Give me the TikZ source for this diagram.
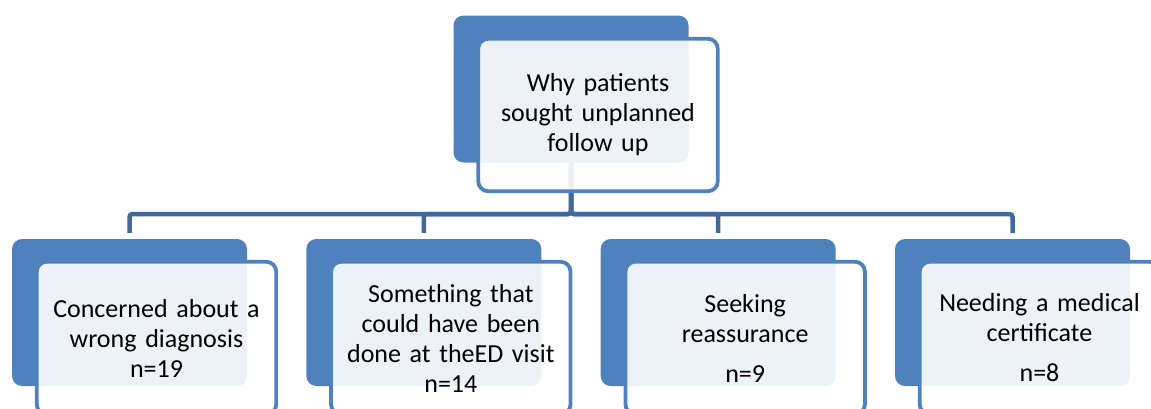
\documentclass[tikz,border=0pt]{standalone}
\usepackage{fontspec}
\setmainfont{Carlito}
\definecolor{accent}{HTML}{4F81BD}
\definecolor{linkblue}{HTML}{41699A}
\begin{document}
\begin{tikzpicture}[x=1pt, y=-1pt,
  backbox/.style={rectangle, rounded corners=10pt, fill=accent, minimum width=235pt, minimum height=147pt, inner sep=0pt},
  frontbox/.style={rectangle, rounded corners=10pt, draw=accent, line width=3.8pt, fill=white, fill opacity=0.9, text opacity=1, minimum width=239.5pt, minimum height=152.5pt, text width=236pt, align=center, inner sep=0pt, font=\fontsize{26}{30}\selectfont},
  link/.style={draw=linkblue, line width=4.5pt, rounded corners=3pt}]
\useasboundingbox (0,0) rectangle (1151,408);
\clip (0,0) rectangle (1151,408);
\coordinate (bus) at (0,214);

% back shapes
\node[backbox] (root back) at (571,89) {};
\foreach \i in {1,...,4} {
  \pgfmathsetmacro\cx{129.5+294.33*(\i-1)}
  \node[backbox] (back \i) at (\cx,312.5) {};
}

% connectors
\foreach \i in {1,...,4}
  \draw[link, shorten >=6pt] (root back.south) -- (root back.south |- bus) -| (back \i.north);

% text boxes
\node[frontbox] (root front) at (598,115) {Why patients\\sought unplanned\\follow up};
\foreach \i/\txt in {1/{Concerned about a\\wrong diagnosis\\n=19},
                     2/{Something that\\could have been\\done at theED visit\\n=14},
                     3/{Seeking\\reassurance\\[10pt]n=9},
                     4/{Needing a medical\\certificate\\[10pt]n=8}} {
  \pgfmathsetmacro\cx{156.5+294.33*(\i-1)}
  \node[frontbox] (front \i) at (\cx,338) {\txt};
}
\end{tikzpicture}
\end{document}
